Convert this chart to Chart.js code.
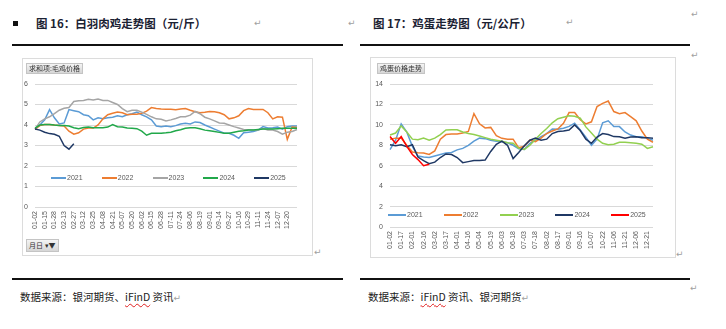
<!DOCTYPE html>
<html>
<head>
<meta charset="utf-8">
<script src="https://cdn.jsdelivr.net/npm/chart.js@4.4.1/dist/chart.umd.min.js"></script>
<style>
  body { margin: 0; width: 726px; height: 329px; position: relative; background: #fff; overflow: hidden; font-family: "Noto Sans CJK SC", sans-serif; }
  .abs { position: absolute; white-space: nowrap; }
  .title { font-size: 11.5px; font-weight: 700; color: #1b2233; line-height: 14px; }
  .mark { font-size: 9px; color: #a0a0a0; line-height: 10px; font-family: "DejaVu Sans", sans-serif; }
  .rule { height: 1.5px; background: #111; }
  .box { border: 1px solid #dcdcdc; box-sizing: border-box; }
  .btn { font-size: 7px; line-height: 9px; color: #333; background: linear-gradient(#f4f4f4, #d6d6d6); border: 1px solid #c4c4c4; padding: 0 2px; }
  .src { font-size: 10.5px; color: #222; line-height: 14px; }
  .wavy { text-decoration: underline wavy #e02020; text-decoration-thickness: 1px; text-underline-offset: 2px; }
  .leg { font-size: 7px; color: #595959; line-height: 8px; font-family: "Liberation Sans", Arial, sans-serif; }
  .leg i { display: inline-block; width: 15px; height: 2px; vertical-align: middle; margin-right: 1px; }
  canvas { position: absolute; }
</style>
</head>
<body>

<div class="abs" style="left:13px; top:21px; width:5px; height:5px; background:#111;"></div>
<div class="abs title" style="left:36px; top:16px;">图 16：白羽肉鸡走势图（元/斤）</div>
<div class="abs mark" style="left:254px; top:18px;">↵</div>
<div class="abs mark" style="left:348px; top:18px;">↵</div>
<div class="abs rule" style="left:12px; top:44px; width:331px;"></div>

<div class="abs title" style="left:373px; top:16px;">图 17：鸡蛋走势图（元/公斤）</div>
<div class="abs mark" style="left:566px; top:17px;">↵</div>
<div class="abs mark" style="left:691px; top:9px;">↵</div>
<div class="abs mark" style="left:691px; top:50px;">↵</div>
<div class="abs rule" style="left:360px; top:44px; width:330px;"></div>

<div class="abs box" style="left:22px; top:58px; width:291px; height:198px;"></div>
<div class="abs box" style="left:370px; top:57px; width:306px; height:201px;"></div>
<canvas id="leftChart" width="290" height="197" style="left:22px; top:58px;"></canvas>
<canvas id="rightChart" width="305" height="200" style="left:370px; top:57px;"></canvas>

<div class="abs btn" style="left:26px; top:63px;">求和项:毛鸡价格</div>
<div class="abs btn" style="left:26px; top:239px; line-height:11px;">月日 ▾▼</div>
<div class="abs btn" style="left:377px; top:63px;">鸡蛋价格走势</div>

<div class="abs leg" id="leftLegend" style="left:51px; top:174px;"></div>
<div class="abs leg" id="rightLegend" style="left:388px; top:211px;"></div>

<div class="abs mark" style="left:314px; top:247px;">↵</div>
<div class="abs mark" style="left:676px; top:249px;">↵</div>

<div class="abs rule" style="left:12px; top:278px; width:331px;"></div>
<div class="abs rule" style="left:360px; top:278px; width:330px;"></div>
<div class="abs mark" style="left:690px; top:283px;">↵</div>

<div class="abs src" style="left:20px; top:290px;">数据来源：银河期货、<span class="wavy">iFinD</span> 资讯<span class="mark">↵</span></div>
<div class="abs src" style="left:368px; top:290px;">数据来源：<span class="wavy">iFinD</span> 资讯、银河期货<span class="mark">↵</span></div>

<script>
// 白羽肉鸡（元/斤）
const leftDates = ['01-02','01-08','01-15','01-21','01-28','02-05','02-13','02-20','02-27','03-05',
  '03-12','03-18','03-25','04-01','04-08','04-14','04-21','04-28','05-07','05-13',
  '05-20','05-26','06-02','06-08','06-15','06-21','06-28','07-04','07-11','07-17',
  '07-24','07-30','08-06','08-12','08-19','08-25','09-01','09-07','09-14','09-20',
  '09-27','10-08','10-16','10-22','10-29','11-04','11-11','11-17','11-24','11-30',
  '12-07','12-13','12-20','12-26','12-31'];
const leftTicks = ['01-02','01-15','01-28','02-13','02-27','03-12','03-25','04-08','04-21','05-07',
  '05-20','06-02','06-15','06-28','07-11','07-24','08-06','08-19','09-01','09-14',
  '09-27','10-16','10-29','11-11','11-24','12-07','12-20'];
const broiler2021 = [3.8,4.0,4.25,4.75,4.35,4.05,4.1,4.75,4.7,4.65,4.5,4.45,4.25,4.35,4.3,4.35,4.38,4.45,4.4,4.5,
  4.55,4.63,4.5,4.4,4.25,3.95,3.92,3.95,3.92,3.97,4.05,4.08,4.05,4.15,4.12,4.0,3.9,3.8,3.7,3.6,
  3.6,3.5,3.35,3.62,3.65,3.68,3.75,3.92,3.85,3.87,3.9,3.8,3.92,3.95,3.95];
const broiler2022 = [3.8,3.97,4.02,4.03,4.0,3.98,3.95,3.7,3.55,3.62,3.8,3.85,3.85,4.0,4.3,4.5,4.57,4.63,4.6,4.5,
  4.52,4.52,4.57,4.68,4.85,4.8,4.78,4.77,4.77,4.75,4.78,4.8,4.72,4.65,4.6,4.62,4.66,4.65,4.6,4.5,
  4.3,4.35,4.45,4.7,4.8,4.76,4.76,4.76,4.6,4.3,4.4,4.38,3.3,3.9,3.88];
const broiler2023 = [3.8,4.15,4.3,4.4,4.55,4.72,4.82,4.85,5.15,5.18,5.2,5.25,5.22,5.27,5.2,5.2,5.1,5.0,4.8,4.65,
  4.72,4.72,4.63,4.52,4.4,4.3,4.28,4.2,4.25,4.32,4.4,4.4,4.48,4.66,4.55,4.38,4.3,4.2,4.1,4.08,
  4.0,3.92,3.85,3.78,3.77,3.76,3.76,3.83,3.76,3.76,3.68,3.55,3.65,3.68,3.78];
const broiler2024 = [3.85,4.0,4.02,4.03,4.0,3.98,3.97,3.95,3.87,3.82,3.88,3.9,3.87,3.87,3.87,3.9,4.02,3.92,3.9,3.85,
  3.84,3.82,3.7,3.5,3.6,3.6,3.6,3.62,3.65,3.72,3.77,3.84,3.87,3.86,3.82,3.75,3.72,3.68,3.64,3.6,
  3.6,3.65,3.7,3.72,3.76,3.76,3.78,3.8,3.8,3.8,3.82,3.84,3.84,3.84,3.84];
const broiler2025 = [3.8,3.75,3.65,3.58,3.55,3.45,3.0,2.82,3.08];

// 鸡蛋（元/公斤）
const rightDates = ['01-02','01-09','01-17','01-24','02-01','02-08','02-16','02-23','03-02','03-09',
  '03-17','03-24','04-01','04-08','04-16','04-25','05-04','05-11','05-19','05-26',
  '06-03','06-10','06-18','06-25','07-03','07-10','07-18','07-25','08-02','08-09',
  '08-17','08-24','09-01','09-08','09-16','09-26','10-07','10-14','10-22','10-29',
  '11-06','11-13','11-21','11-28','12-06','12-13','12-21','12-29'];
const rightTicks = ['01-02','01-17','02-01','02-16','03-02','03-17','04-01','04-16','05-04','05-19',
  '06-03','06-18','07-03','07-18','08-02','08-17','09-01','09-16','10-07','10-22',
  '11-06','11-21','12-06','12-21'];
const egg2021 = [7.58,8.5,10.1,9.3,7.9,6.95,6.85,6.8,6.95,7.1,7.25,7.3,7.55,7.7,8.0,8.4,8.7,8.65,8.5,8.4,
  8.35,8.25,8.0,7.67,7.6,8.2,8.5,8.85,9.15,9.6,9.57,9.67,9.85,10.17,9.5,8.8,8.0,8.6,10.2,10.4,
  9.83,9.83,9.3,9.0,8.83,8.83,8.7,8.5];
const egg2022 = [8.6,8.7,8.7,8.0,7.35,7.28,7.25,7.1,7.45,8.6,9.05,9.1,9.1,9.2,9.35,11.1,10.1,9.7,9.75,8.95,
  8.68,8.6,8.6,7.75,7.9,8.5,8.35,8.7,9.15,9.4,9.6,10.15,11.2,11.2,10.5,10.1,10.3,11.8,12.1,12.33,
  11.3,11.1,11.2,10.8,10.4,9.4,8.6,8.3];
const egg2023 = [9.0,9.2,9.9,9.3,8.6,8.55,8.7,8.5,8.7,9.05,9.5,9.52,9.52,9.3,9.15,9.05,8.9,8.75,8.6,8.5,
  8.4,8.25,8.2,7.7,7.6,8.0,8.6,9.15,9.65,10.2,10.6,10.75,10.9,10.85,10.65,9.8,9.2,8.6,8.2,8.05,
  8.1,8.3,8.3,8.25,8.2,8.1,7.7,7.85];
const egg2024 = [8.06,7.95,8.05,7.85,8.05,6.85,6.5,6.2,6.35,6.8,7.15,7.1,6.8,6.3,6.4,6.5,6.5,6.55,7.4,8.1,
  8.4,8.0,6.7,7.3,7.95,8.5,8.7,8.5,8.6,9.15,9.35,9.4,9.5,10.0,9.45,8.6,8.2,8.8,9.15,9.05,
  8.85,8.83,8.7,8.8,8.83,8.75,8.75,8.7];
const egg2025 = [8.85,8.2,8.85,7.9,7.1,6.6,6.0,6.15];

const years = ['2021', '2022', '2023', '2024', '2025'];
const leftColors = ['#5B9BD5', '#ED7D31', '#A5A5A5', '#21A84A', '#1F3864'];
const rightColors = ['#5B9BD5', '#ED7D31', '#92D050', '#1F3864', '#FF0000'];

Chart.defaults.font.family = "'Liberation Sans', Arial, sans-serif";
Chart.defaults.font.size = 7;
Chart.defaults.color = '#595959';

function makeChart(id, dates, ticks, series, colors, yMax, yStep, box) {
  const ctx = document.getElementById(id).getContext('2d');
  return new Chart(ctx, {
    type: 'line',
    data: {
      labels: dates,
      datasets: series.map((s, i) => ({
        label: years[i],
        data: s,
        borderColor: colors[i],
        borderWidth: 1.5,
        pointRadius: 0,
        tension: 0,
        fill: false,
        order: series.length - i // 后面的年份画在上面
      }))
    },
    options: {
      responsive: false,
      animation: false,
      layout: { padding: { top: box.top, right: box.right, bottom: box.bottom, left: 0 } },
      plugins: { legend: { display: false }, tooltip: { enabled: false } },
      scales: {
        x: {
          grid: { display: false, drawTicks: false },
          border: { display: false },
          ticks: {
            autoSkip: false, minRotation: 90, maxRotation: 90, padding: 4,
            callback: function (v) {
              const d = this.getLabelForValue(v);
              return ticks.includes(d) ? d : null;
            }
          },
          afterFit: s => { s.height = box.xh; }
        },
        y: {
          min: 0, max: yMax,
          grid: { color: '#d9d9d9', drawTicks: false },
          border: { display: false },
          ticks: { stepSize: yStep, padding: 7 },
          afterFit: s => { s.width = box.yw; }
        }
      }
    }
  });
}

makeChart('leftChart', leftDates, leftTicks,
  [broiler2021, broiler2022, broiler2023, broiler2024, broiler2025],
  leftColors, 6, 1, { top: 26, right: 15, bottom: 18, xh: 30, yw: 13 });

makeChart('rightChart', rightDates, rightTicks,
  [egg2021, egg2022, egg2023, egg2024, egg2025],
  rightColors, 14, 2, { top: 27, right: 22, bottom: 6, xh: 24, yw: 20 });

// 图例放在绘图区里面
function buildLegend(id, colors, gap, lineW) {
  const el = document.getElementById(id);
  years.forEach((y, i) => {
    const item = document.createElement('span');
    item.className = 'abs';
    item.style.left = (i * gap) + 'px';
    item.innerHTML = '<i style="background:' + colors[i] + ';width:' + lineW + 'px"></i>' + y;
    el.appendChild(item);
  });
}
buildLegend('leftLegend', leftColors, 50.8, 15);
buildLegend('rightLegend', rightColors, 55.8, 18);
</script>
</body>
</html>
